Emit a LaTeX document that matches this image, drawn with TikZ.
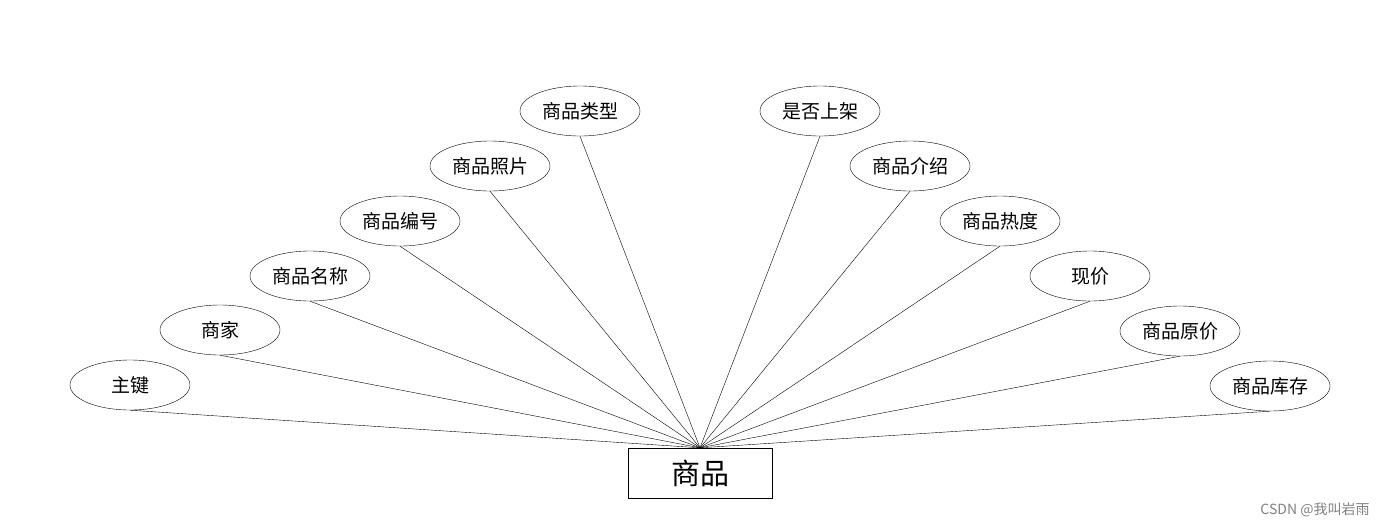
\documentclass[tikz,border=0pt]{standalone}
\usepackage{fontspec}
\setmainfont{Noto Sans CJK SC}
\usetikzlibrary{shapes.geometric}
\tikzset{
    attr/.style={draw, ellipse, minimum width=120pt, minimum height=50pt, inner sep=0pt, font=\fontsize{19}{19}\selectfont},
    entity/.style={draw, rectangle, minimum width=144pt, minimum height=50pt, font=\fontsize{29}{29}\selectfont}
}
\begin{document}
\begin{tikzpicture}[x=1pt,y=-1pt]
        \useasboundingbox (0,0) rectangle (1400,528);
        \node[entity] (goods) at (700,473) {商品};
        \foreach \name/\x/\y/\txt in {a/130/385/主键, b/220/330/商家, c/310/276/商品名称,
            d/400/221/商品编号, e/490/166/商品照片, f/580/111/商品类型,
            g/820/111/是否上架, h/910/166/商品介绍, i/1000/221/商品热度,
            j/1090/276/现价, k/1180/331/商品原价, l/1270/386/商品库存}{
            \node[attr] (\name) at (\x,\y) {\txt};
            \draw (\name.south) -- (goods.north);
        }
        \node[text=gray, font=\fontsize{14}{14}\selectfont] (mark) at (1315,510) {CSDN @我叫岩雨};
\end{tikzpicture}
\end{document}
